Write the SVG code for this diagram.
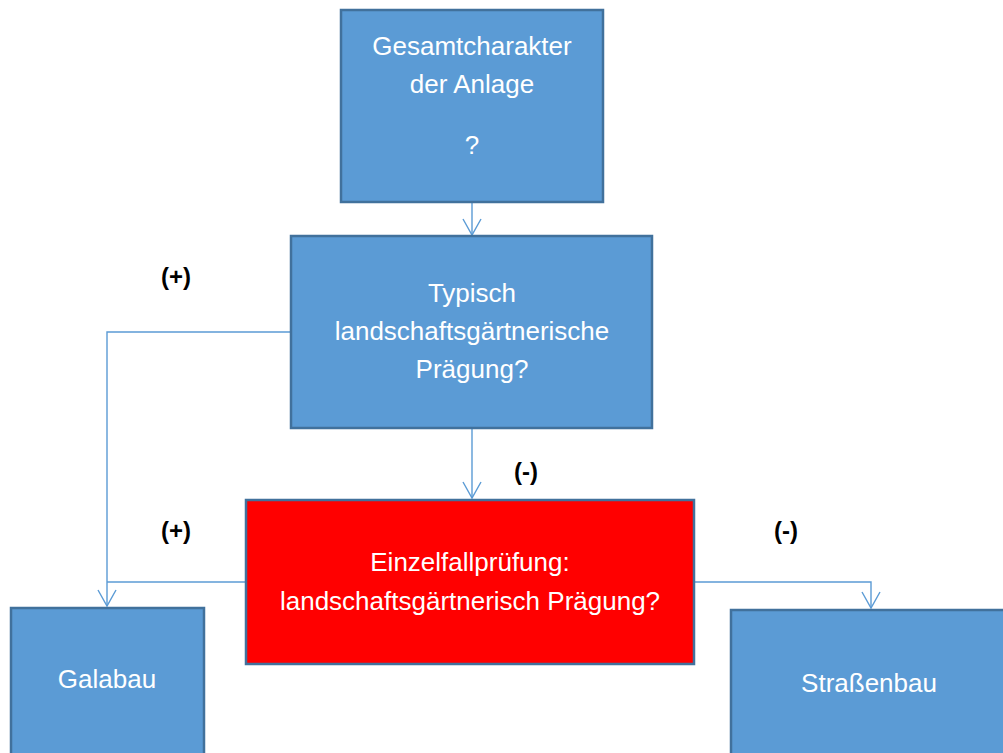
<svg xmlns="http://www.w3.org/2000/svg" width="1003" height="753" viewBox="0 0 1003 753">
  <style>
    .box { fill: #5B9BD5; stroke: #41719C; stroke-width: 2.5; }
    .alert { fill: #FF0000; stroke: #41719C; stroke-width: 2.5; }
    .lbl { font-family: "Liberation Sans", Arial, sans-serif; font-size: 26px; fill: #FFFFFF; text-anchor: middle; }
    .mark { font-family: "Liberation Sans", Arial, sans-serif; font-size: 24px; font-weight: bold; fill: #000000; text-anchor: middle; }
    .wire { fill: none; stroke: #5B9BD5; stroke-width: 1.4; }
  </style>
  <defs>
    <!-- open V arrowhead, drawn along +x so orient="auto" points it along the line -->
    <marker id="vhead" markerUnits="userSpaceOnUse" markerWidth="22" markerHeight="24" viewBox="-19 -11 22 22" refX="0" refY="0" orient="auto">
      <path d="M -16 -9 L 0 0 L -16 9" fill="none" stroke="#5B9BD5" stroke-width="1.4"/>
    </marker>
  </defs>
  <rect width="1003" height="753" fill="#FFFFFF"/>

  <g id="connectors">
    <line class="wire" x1="472" y1="202" x2="472" y2="235" marker-end="url(#vhead)"/>
    <line class="wire" x1="472" y1="428" x2="472" y2="498" marker-end="url(#vhead)"/>
    <polyline class="wire" points="291,332 107,332 107,606" marker-end="url(#vhead)"/>
    <polyline class="wire" points="246,582 107,582"/>
    <polyline class="wire" points="694,582 871,582 871,608" marker-end="url(#vhead)"/>
  </g>

  <g id="gesamtcharakter">
    <rect class="box" x="341" y="10" width="262" height="192"/>
    <text class="lbl" x="472" y="55">Gesamtcharakter</text>
    <text class="lbl" x="472" y="93">der Anlage</text>
    <text class="lbl" x="472" y="154">?</text>
  </g>

  <g id="typisch">
    <rect class="box" x="291" y="236" width="361" height="192"/>
    <text class="lbl" x="472" y="302">Typisch</text>
    <text class="lbl" x="472" y="340">landschaftsgärtnerische</text>
    <text class="lbl" x="472" y="378">Prägung?</text>
  </g>

  <g id="einzelfall">
    <rect class="alert" x="246" y="500" width="448" height="164"/>
    <text class="lbl" x="470" y="571">Einzelfallprüfung:</text>
    <text class="lbl" x="470" y="610">landschaftsgärtnerisch Prägung?</text>
  </g>

  <g id="galabau">
    <rect class="box" x="11" y="608" width="193" height="160"/>
    <text class="lbl" x="107" y="688">Galabau</text>
  </g>

  <g id="strassenbau">
    <rect class="box" x="731" y="610" width="290" height="160"/>
    <text class="lbl" x="869" y="692">Straßenbau</text>
  </g>

  <g id="labels">
    <text class="mark" x="176" y="285">(+)</text>
    <text class="mark" x="526" y="480">(-)</text>
    <text class="mark" x="176" y="539">(+)</text>
    <text class="mark" x="786" y="539">(-)</text>
  </g>
</svg>
